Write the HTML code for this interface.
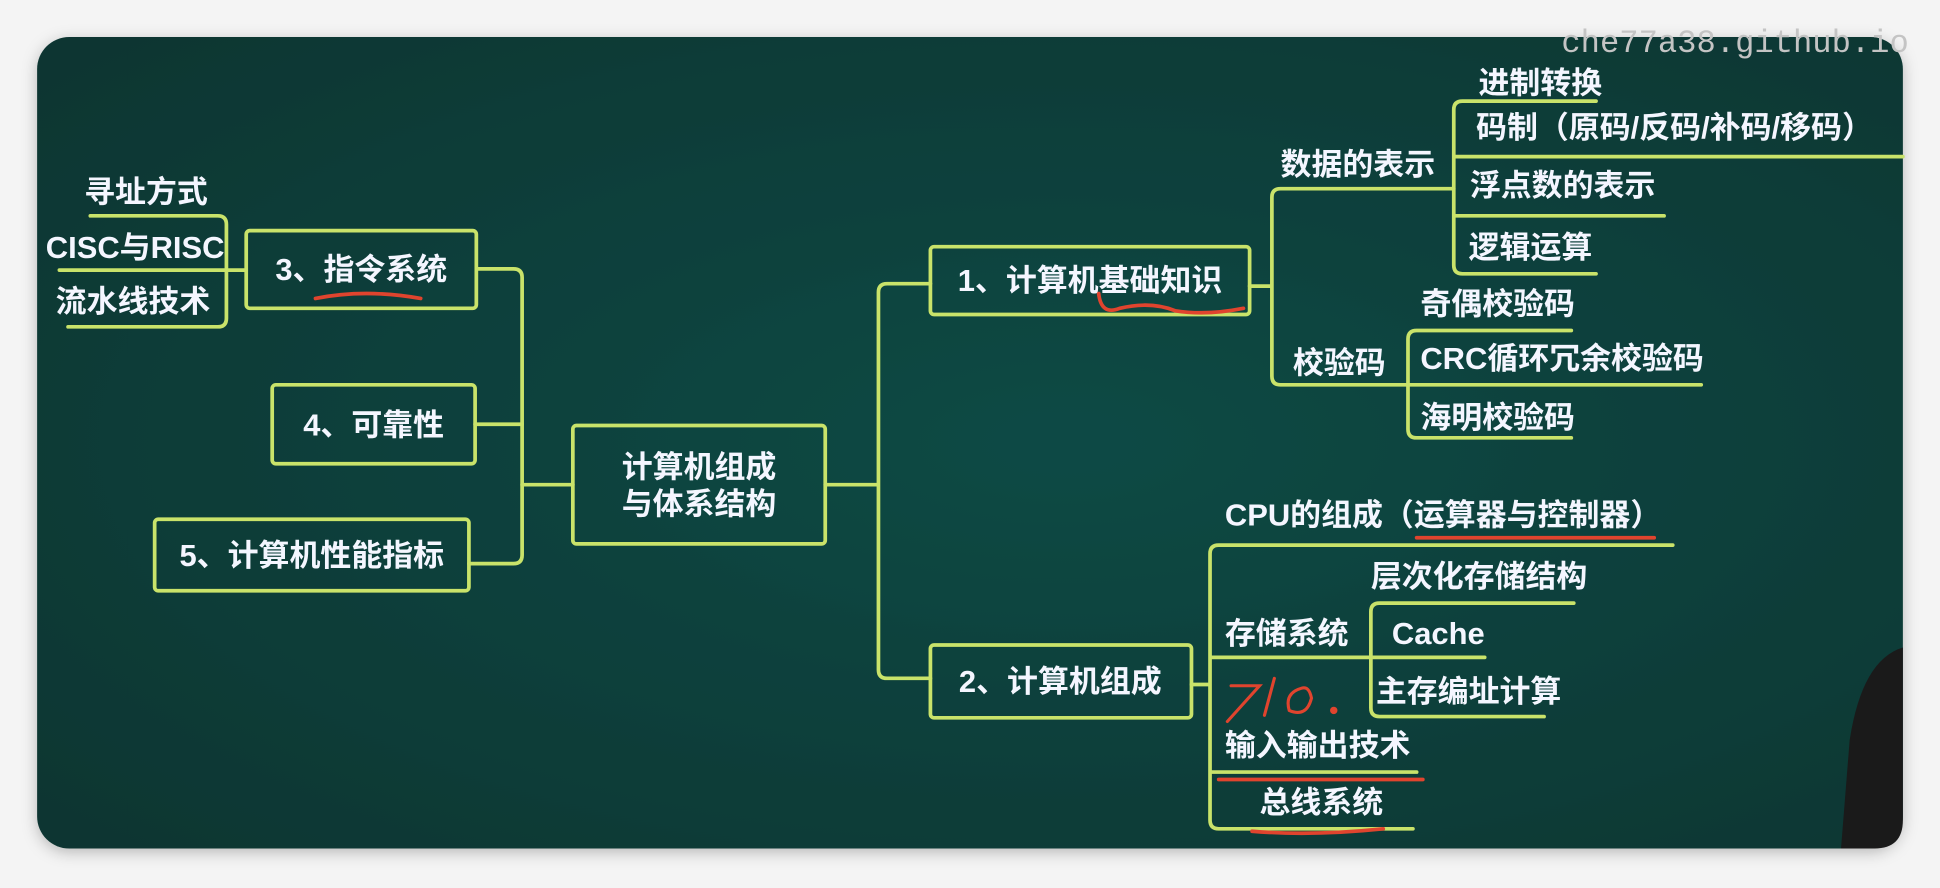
<!DOCTYPE html>
<html><head><meta charset="utf-8"><style>
html,body{margin:0;padding:0;background:#f4f4f4;width:1940px;height:888px;overflow:hidden}
svg{display:block}
text{font-family:"Liberation Sans","Noto Sans CJK SC",sans-serif;font-weight:bold;fill:#f4f6ff;font-size:25px}
</style></head><body>
<svg width="1940" height="888" viewBox="0 0 1568 720" preserveAspectRatio="none">
<defs>
<radialGradient id="bg" cx="0.55" cy="0.5" r="0.7">
<stop offset="0" stop-color="#114a45"/><stop offset="1" stop-color="#0c3632"/>
</radialGradient>
<filter id="sh" x="-5%" y="-5%" width="110%" height="110%"><feDropShadow dx="0" dy="3" stdDeviation="6" flood-color="#000" flood-opacity="0.25"/></filter>
</defs>
<rect x="30" y="30" width="1508" height="658" rx="26" fill="url(#bg)" filter="url(#sh)"/>
<path d="M1538 525 Q1505 535 1495 600 L1488 688 L1515 688 Q1538 688 1538 665 Z" fill="#1a1a1a"/>
<g fill="none" stroke="#c9e36a" stroke-width="3" stroke-linecap="round" stroke-linejoin="round">
<rect x="463" y="345" width="204" height="96" rx="3"/>
<rect x="199" y="187" width="186" height="63" rx="3"/>
<rect x="220" y="312" width="164" height="64" rx="3"/>
<rect x="125" y="421" width="254" height="58" rx="3"/>
<rect x="752" y="200" width="258" height="55" rx="3"/>
<rect x="752" y="523" width="211" height="59" rx="3"/>
<path d="M385 218 H415 Q422 218 422 225 V450 Q422 457 415 457 H379"/>
<path d="M384 344 H422 M422 393 H463"/>
<path d="M73 175 H176 Q183 175 183 182 V258 Q183 265 176 265 H55 M48 219 H199"/>
<path d="M667 393 H710 M752 230 H717 Q710 230 710 237 V543 Q710 550 717 550 H752"/>
<path d="M1010 232 H1028 M1175 153 H1035 Q1028 153 1028 160 V305 Q1028 312 1035 312 H1375"/>
<path d="M1290 82 H1182 Q1175 82 1175 89 V215 Q1175 222 1182 222 H1290 M1175 127 H1538 M1175 175 H1345"/>
<path d="M1270 268 H1145 Q1138 268 1138 275 V348 Q1138 355 1145 355 H1270"/>
<path d="M963 555 H978 M1352 442 H985 Q978 442 978 449 V665 Q978 672 985 672 H1142 M978 533 H1200 M978 626 H1145"/>
<path d="M1272 489 H1115 Q1108 489 1108 496 V574 Q1108 581 1115 581 H1248"/>
</g>
<g fill="none" stroke="#e0442e" stroke-width="3" stroke-linecap="round">
<path d="M255 242 Q295 234 340 242"/>
<path d="M888 238 Q890 256 905 250 Q930 244 950 252 Q975 256 1005 250"/>
<path d="M1145 436 H1337"/>
<path d="M985 632 H1150"/>
<path d="M1012 674 Q1060 678 1118 672"/>
<path d="M995 556 H1018 L992 585 M1030 550 L1022 580 M1052 558 Q1038 562 1042 576 Q1056 582 1060 566 Q1058 556 1052 558" stroke-width="2.5"/>
<circle cx="1078" cy="576" r="1.5" fill="#e0442e"/>
</g>
<text x="565" y="387" text-anchor="middle">计算机组成</text>
<text x="565" y="417" text-anchor="middle">与体系结构</text>
<text x="292" y="227" text-anchor="middle">3、指令系统</text>
<text x="302" y="353" text-anchor="middle">4、可靠性</text>
<text x="252" y="459" text-anchor="middle">5、计算机性能指标</text>
<text x="881" y="236" text-anchor="middle">1、计算机基础知识</text>
<text x="857" y="561" text-anchor="middle">2、计算机组成</text>
<text x="68" y="164">寻址方式</text>
<text x="37" y="209">CISC与RISC</text>
<text x="45" y="253">流水线技术</text>
<text x="1035" y="142">数据的表示</text>
<text x="1045" y="303">校验码</text>
<text x="1195" y="76">进制转换</text>
<text x="1193" y="112">码制（原码/反码/补码/移码）</text>
<text x="1188" y="159">浮点数的表示</text>
<text x="1187" y="209">逻辑运算</text>
<text x="1148" y="255">奇偶校验码</text>
<text x="1148" y="299">CRC循环冗余校验码</text>
<text x="1148" y="347">海明校验码</text>
<text x="990" y="426">CPU的组成（运算器与控制器）</text>
<text x="1108" y="476">层次化存储结构</text>
<text x="990" y="522">存储系统</text>
<text x="1125" y="522" font-size="26">Cache</text>
<text x="1112" y="569">主存编址计算</text>
<text x="990" y="613">输入输出技术</text>
<text x="1018" y="659">总线系统</text>
<text x="1262" y="42" style="font-family:'Liberation Mono','DejaVu Sans Mono',monospace;font-weight:normal;fill:#c4c4c4;font-size:26px">che77a38.github.io</text>
</svg>
</body></html>
